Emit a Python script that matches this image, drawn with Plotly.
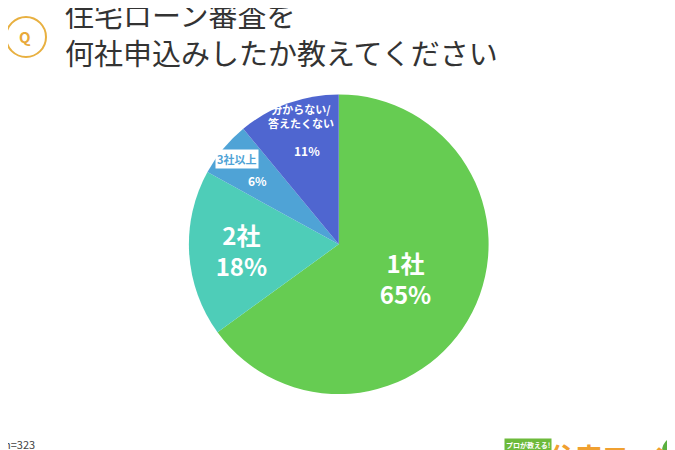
import plotly.graph_objects as go

labels = ["1社", "2社", "3社以上", "分からない/答えたくない"]
values = [65, 18, 6, 11]
colors = ["#66CC52", "#4ECDB8", "#4FA3D6", "#4F66D0"]
texts = ["<b>1社<br>65%</b>", "<b>2社<br>18%</b>", "", ""]

F = "Noto Sans CJK JP"
fig = go.Figure(go.Pie(
    labels=labels, values=values, sort=False, direction="clockwise", rotation=0,
    marker=dict(colors=colors, line=dict(color="white", width=0)),
    text=texts, textinfo="text", textposition="inside", insidetextorientation="horizontal",
    textfont=dict(family=F, size=24, color="white"), showlegend=False, hoverinfo="label+percent",
    domain=dict(x=[0.268, 0.712], y=[0.142, 0.808]),
))
ann = []
def A(x, y, t, size, color="white", anchor="center", **kw):
    ann.append(dict(x=x / 675, y=1 - y / 450, xref="paper", yref="paper", text=t, showarrow=False,
                    font=dict(family=F, size=size, color=color), xanchor=anchor, yanchor="middle", **kw))
A(293, 108, "<b>分からない/<br>答えたくない</b>", 11)
A(299, 142, "<b>11%</b>", 12)
A(229, 151, "<b>3社以上</b>", 11, color="#4FA3D6", bgcolor="white")
A(249, 172, "<b>6%</b>", 12)
A(55, 6, "住宅ローン審査を", 29, color="#333333", anchor="left")
A(55, 44, "何社申込みしたか教えてください", 29, color="#333333", anchor="left")
A(17, 29, "<b>Q</b>", 15, color="#E8A93A")
A(-6, 436, "n=323", 11, color="#444", anchor="left")
A(-6, 452, "調査期間：2019年12月20日～12月23日　株式会社エイチーム　ライフスタイル調べ", 11, color="#444", anchor="left")
A(496, 437, "<b>プロが教える!</b>", 7, color="white", anchor="left", bgcolor="#6DBA3B")
A(540, 447, "<b>住宅ローン</b>", 26, color="#F0A030", anchor="left")
fig.update_layout(
    width=675, height=450, margin=dict(l=0, r=0, t=0, b=0), paper_bgcolor="white",
    annotations=ann,
    shapes=[dict(type="circle", xref="paper", yref="paper", x0=-2/675, x1=38/675, y0=1-49/450, y1=1-9/450,
                 line=dict(color="#E8B040", width=2)),
            dict(type="circle", xref="paper", yref="paper", x0=655/675, x1=690/675, y0=1-458/450, y1=1-428/450,
                 line=dict(color="#5BB040", width=2), fillcolor="#5BB040")],
)
fig.write_html("out.html")
